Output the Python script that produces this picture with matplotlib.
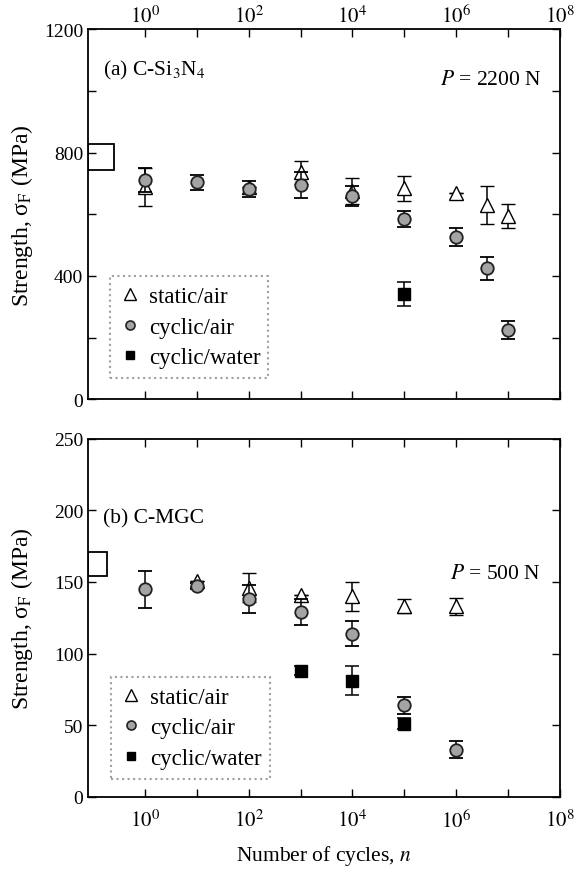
import matplotlib
matplotlib.use("Agg")
import matplotlib.pyplot as plt
from matplotlib.lines import Line2D
from matplotlib.patches import Rectangle

plt.rcParams['font.family'] = ['Liberation Serif', 'DejaVu Serif']
plt.rcParams['mathtext.fontset'] = 'stix'

# (a) C-Si3N4, P = 2200 N
a_static_n = [1, 1e2, 1e3, 1e4, 1e5, 1e6, 4e6, 1e7]
a_static_s = [688, 690, 736, 675, 684, 668, 629, 594]
a_static_e = [62, 0, 36, 42, 42, 0, 62, 40]
a_cyc_n = [1, 10, 1e2, 1e3, 1e4, 1e5, 1e6, 4e6, 1e7]
a_cyc_s = [711, 704, 681, 694, 659, 584, 525, 425, 224]
a_cyc_e = [38, 25, 26, 42, 33, 26, 29, 37, 30]
a_wat_n = [1e5]
a_wat_s = [341]
a_wat_e = [38]
a_box = [10**-1.1, 10**-0.6, 743, 827]   # x0, x1, y0, y1 (initial strength)

# (b) C-MGC, P = 500 N
b_static_n = [10, 1e2, 1e3, 1e4, 1e5, 1e6]
b_static_s = [151, 146, 141, 140, 133, 133]
b_static_e = [0, 10, 0, 10, 5, 6]
b_cyc_n = [1, 10, 1e2, 1e3, 1e4, 1e5, 1e6]
b_cyc_s = [145, 147, 138, 129, 114, 64, 33]
b_cyc_e = [13, 2, 10, 9, 9, 6, 6]
b_wat_n = [1e3, 1e4, 1e5]
b_wat_s = [88, 81, 51]
b_wat_e = [3, 10, 4]
b_box = [10**-1.1, 10**-0.73, 154, 171]

labels = ['static/air', 'cyclic/air', 'cyclic/water']
GRIS = '#a4a4a4'

fig = plt.figure(figsize=(5.79, 8.70), dpi=100)
ax1 = fig.add_axes([0.152, 0.540, 0.815, 0.425])
ax2 = fig.add_axes([0.152, 0.083, 0.815, 0.4115])

xt = [10**k for k in range(0, 9)]
xtl = ['$10^{%d}$' % k if k % 2 == 0 else '' for k in range(0, 9)]


def panel(ax, sn, ss, se, cn, cs, ce, wn, ws, we, box):
    ax.errorbar(sn, ss, yerr=se, fmt='^', ms=10, mfc='white', mec='black', mew=1.0,
                ecolor='black', elinewidth=1.1, capsize=5, capthick=1.1, zorder=3)
    ax.errorbar(cn, cs, yerr=ce, fmt='o', ms=9, mfc=GRIS, mec='#222222', mew=1.3,
                ecolor='black', elinewidth=1.1, capsize=5, capthick=1.1, zorder=4)
    ax.errorbar(wn, ws, yerr=we, fmt='s', ms=8, mfc='black', mec='black',
                ecolor='black', elinewidth=1.1, capsize=5, capthick=1.1, zorder=5)
    ax.add_patch(Rectangle((box[0], box[2]), box[1] - box[0], box[3] - box[2],
                           fill=False, ec='black', lw=1.3, zorder=6))
    ax.set_xscale('log')
    ax.set_xlim(10**-1.1, 1e8)
    ax.set_xticks(xt)
    ax.set_xticks([], minor=True)
    ax.tick_params(which='both', direction='in', top=True, right=True,
                   length=6, width=1.0, labelsize=14)
    ax.tick_params(axis='x', labelsize=15)
    for s in ax.spines.values():
        s.set_linewidth(1.3)
    ax.set_ylabel('Strength, σ$_{\\rm F}$ (MPa)', fontsize=17)
    ax.yaxis.set_label_coords(-0.112, 0.5)
    # legenda so com os marcadores
    h = [Line2D([], [], ls='', marker='^', ms=8, mfc='white', mec='black'),
         Line2D([], [], ls='', marker='o', ms=6.5, mfc=GRIS, mec='#222222', mew=1.2),
         Line2D([], [], ls='', marker='s', ms=6, mfc='black', mec='black')]
    return h


def legenda(ax, h, bbox):
    leg = ax.legend(h, labels, loc='lower left', bbox_to_anchor=bbox, mode='expand',
                    borderaxespad=0, fontsize=16.5, handlelength=0.8, handletextpad=0.45,
                    labelspacing=0.4, fancybox=False, frameon=True, borderpad=0.45)
    leg.get_frame().set_linestyle(':')
    leg.get_frame().set_edgecolor('#888888')
    leg.get_frame().set_linewidth(1.5)


h = panel(ax1, a_static_n, a_static_s, a_static_e, a_cyc_n, a_cyc_s, a_cyc_e,
          a_wat_n, a_wat_s, a_wat_e, a_box)
ax1.set_ylim(0, 1200)
ax1.set_yticks([0, 400, 800, 1200])
ax1.set_yticks([200, 600, 1000], minor=True)
ax1.tick_params(axis='x', labeltop=True, labelbottom=False, pad=2)
ax1.set_xticklabels(xtl)
ax1.text(0.032, 0.892, r'(a) C-Si$_3$N$_4$', transform=ax1.transAxes, fontsize=15.5,
         va='center', ha='left')
ax1.text(0.96, 0.865, r'$P$ = 2200 N', transform=ax1.transAxes, fontsize=15.5,
         va='center', ha='right')
legenda(ax1, h, (0.047, 0.057, 0.335, 0.284))

h = panel(ax2, b_static_n, b_static_s, b_static_e, b_cyc_n, b_cyc_s, b_cyc_e,
          b_wat_n, b_wat_s, b_wat_e, b_box)
ax2.set_ylim(0, 250)
ax2.set_yticks([0, 50, 100, 150, 200, 250])
ax2.set_xticklabels(xtl)
ax2.tick_params(axis='x', pad=9)
ax2.set_xlabel(r'Number of cycles, $n$', fontsize=15.5, labelpad=8)
ax2.text(0.032, 0.779, '(b) C-MGC', transform=ax2.transAxes, fontsize=15.5,
         va='center', ha='left')
ax2.text(0.96, 0.623, r'$P$ = 500 N', transform=ax2.transAxes, fontsize=15.5,
         va='center', ha='right')
legenda(ax2, h, (0.049, 0.05, 0.337, 0.296))

fig.savefig('out.png', dpi=100)
